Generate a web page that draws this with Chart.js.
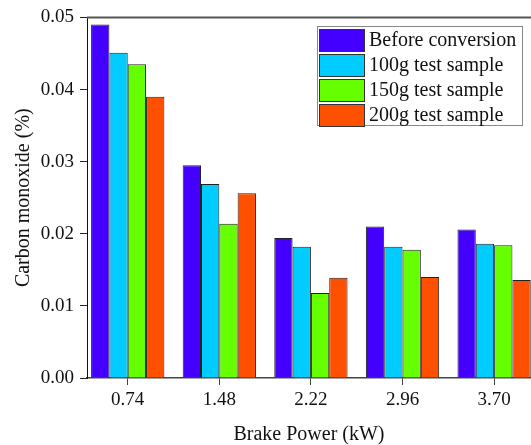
<!DOCTYPE html>
<html>
<head>
<meta charset="utf-8">
<script src="https://cdn.jsdelivr.net/npm/chart.js@4.4.0/dist/chart.umd.min.js"></script>
<style>
  html, body { margin: 0; padding: 0; background: #fff; overflow: hidden; }
  #wrap { position: relative; width: 531px; height: 445px; }
</style>
</head>
<body>
<div id="wrap"><canvas id="coChart"></canvas></div>
<script>
// data
const brakePower = ['0.74', '1.48', '2.22', '2.96', '3.70'];
const seriesNames = ['Before conversion', '100g test sample', '150g test sample', '200g test sample'];
const beforeConversion = [0.0490, 0.0295, 0.0194, 0.0210, 0.0206];
const sample100g = [0.0451, 0.0269, 0.0182, 0.0182, 0.0186];
const sample150g = [0.0435, 0.0214, 0.0118, 0.0178, 0.0184];
const sample200g = [0.0390, 0.0256, 0.0139, 0.0140, 0.0136];
const yTicks = [0, 0.01, 0.02, 0.03, 0.04, 0.05];

const barColors = ['rgb(68, 0, 255)', 'rgb(0, 204, 255)', 'rgb(102, 255, 0)', 'rgb(255, 80, 0)'];
const allSeries = [beforeConversion, sample100g, sample150g, sample200g];

Chart.defaults.font.family = "'Liberation Serif', 'Times New Roman', serif";
Chart.defaults.color = '#111';

function toPoints(values) {
  return values.map((v, i) => ({ x: parseFloat(brakePower[i]), y: v }));
}

// top frame line of the plot box
const topFrame = {
  id: 'topFrame',
  afterDraw(chart) {
    const { ctx, chartArea } = chart;
    ctx.save();
    ctx.strokeStyle = '#555';
    ctx.lineWidth = 2;
    ctx.beginPath();
    ctx.moveTo(chartArea.left, chartArea.top);
    ctx.lineTo(chartArea.right, chartArea.top);
    ctx.stroke();
    ctx.restore();
  }
};

// boxed legend in the upper right corner
const boxLegend = {
  id: 'boxLegend',
  afterDraw(chart) {
    const ctx = chart.ctx;
    const left = 317, top = 26, width = 205, height = 99;
    ctx.save();
    ctx.fillStyle = '#fff';
    ctx.fillRect(left, top, width, height);
    ctx.strokeStyle = '#888';
    ctx.lineWidth = 1;
    ctx.strokeRect(left + 0.5, top + 0.5, width, height);
    ctx.font = "20px 'Liberation Serif', 'Times New Roman', serif";
    ctx.textBaseline = 'middle';
    chart.data.datasets.forEach((ds, i) => {
      const rowY = top + 3 + i * 25;
      ctx.fillStyle = ds.backgroundColor;
      ctx.fillRect(left + 2, rowY, 45, 22);
      ctx.strokeStyle = '#333';
      ctx.strokeRect(left + 2.5, rowY + 0.5, 45, 22);
      ctx.fillStyle = '#111';
      ctx.fillText(ds.label, left + 52, rowY + 12);
    });
    ctx.restore();
  }
};

new Chart(document.querySelector('#coChart'), {
  type: 'bar',
  data: {
    datasets: allSeries.map((values, i) => ({
      label: seriesNames[i],
      data: toPoints(values),
      backgroundColor: barColors[i],
      borderColor: '#222',
      borderWidth: 1,
      barPercentage: 1,
      categoryPercentage: 0.8
    }))
  },
  options: {
    responsive: true,
    maintainAspectRatio: false,
    animation: false,
    layout: { padding: { top: 15, right: 0, bottom: 0, left: 0 } },
    plugins: {
      legend: { display: false },
      tooltip: { enabled: false }
    },
    scales: {
      x: {
        type: 'linear',
        offset: false,
        min: 0.411,
        max: 3.998,
        afterBuildTicks: (scale) => {
          scale.ticks = brakePower.map(p => ({ value: parseFloat(p) }));
        },
        afterFit: (scale) => { scale.height = 67; },
        ticks: {
          autoSkip: false,
          maxRotation: 0,
          padding: 4,
          font: { size: 19 },
          color: '#111',
          callback: (v) => v.toFixed(2)
        },
        grid: { display: true, offset: false, drawOnChartArea: false, drawTicks: true, tickLength: 7, color: '#444', lineWidth: 1 },
        border: { display: true, color: '#444', width: 1.5 },
        title: { display: true, text: 'Brake Power (kW)', font: { size: 20 }, color: '#111', padding: { top: 0, bottom: -2 } }
      },
      y: {
        min: 0,
        max: 0.05,
        afterBuildTicks: (scale) => {
          scale.ticks = yTicks.map(v => ({ value: v }));
        },
        afterFit: (scale) => { scale.width = 87; },
        ticks: {
          padding: 6,
          font: { size: 19 },
          color: '#111',
          callback: (v) => v.toFixed(2)
        },
        grid: { display: true, drawOnChartArea: false, drawTicks: true, tickLength: 7, color: '#222', lineWidth: 1 },
        border: { display: true, color: '#111', width: 1 },
        title: { display: true, text: 'Carbon monoxide (%)', font: { size: 20 }, color: '#111', padding: { top: 12, bottom: 0 } }
      }
    }
  },
  plugins: [topFrame, boxLegend]
});
</script>
</body>
</html>
